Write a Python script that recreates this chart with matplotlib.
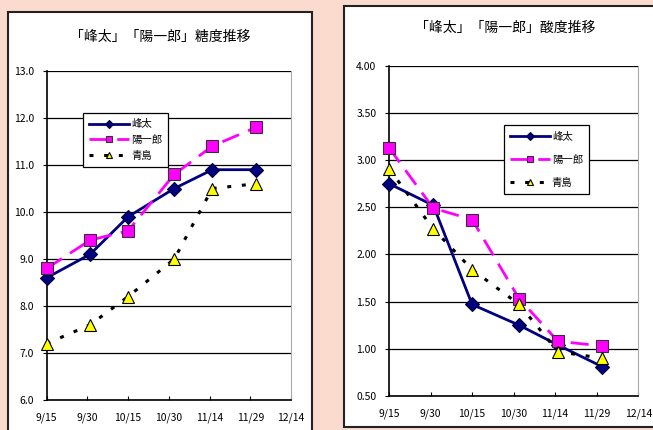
import pandas as pd
import matplotlib
matplotlib.use('Agg')
import matplotlib.pyplot as plt
from matplotlib.patches import Rectangle

plt.rcParams['font.family'] = ['Noto Sans CJK JP', 'DejaVu Sans']

# Sampling dates and series
dates = pd.to_datetime(['2005-09-15', '2005-10-01', '2005-10-15',
                        '2005-11-01', '2005-11-15', '2005-12-01'])
tick_dates = pd.date_range('2005-09-15', '2005-12-14', freq='15D')

names = ['峰太', '陽一郎', '青島']

sugar_houta = [8.6, 9.1, 9.9, 10.5, 10.9, 10.9]
sugar_youichirou = [8.8, 9.4, 9.6, 10.8, 11.4, 11.8]
sugar_aoshima = [7.2, 7.6, 8.2, 9.0, 10.5, 10.6]

acid_houta = [2.75, 2.52, 1.47, 1.25, 1.04, 0.81]
acid_youichirou = [3.13, 2.49, 2.37, 1.53, 1.08, 1.03]
acid_aoshima = [2.91, 2.27, 1.84, 1.47, 0.97, 0.90]

W, H = 653, 430
fig = plt.figure(figsize=(W / 100, H / 100), dpi=100)
fig.patch.set_facecolor('#FCDBCF')


def px_box(x0, y0, x1, y1):
    return [x0 / W, (H - y1) / H, (x1 - x0) / W, (y1 - y0) / H]


# white chart panels behind the axes
for x0, y0, x1, y1 in [(8, 12, 311.5, 440), (343.5, 6, 660, 427)]:
    b = px_box(x0, y0, x1, y1)
    fig.patches.append(Rectangle((b[0], b[1]), b[2], b[3], transform=fig.transFigure,
                                 facecolor='white', edgecolor='#222222', linewidth=1.5,
                                 zorder=-5))

styles = [
    dict(color='#000080', lw=2.0, ls='-', marker='D', ms=7, mfc='#000080', mec='#000033'),
    dict(color='#FF00FF', lw=2.0, ls=(0, (6.5, 3.5)), marker='s', ms=8, mfc='#FF00FF', mec='#333333'),
    dict(color='black', lw=2.2, ls=(0, (1.3, 3.5)), marker='^', ms=8, mfc='#FFFF00', mec='black'),
]


def draw(ax, series, ylim, yticks, yfmt, legend_pos, spacing):
    for name, vals, st in zip(names, series, styles):
        ax.plot(dates, vals, label=name, mew=0.8, clip_on=False, zorder=3, **st)
    ax.set_xlim(tick_dates[0], tick_dates[-1])
    ax.set_ylim(*ylim)
    ax.set_xticks(tick_dates)
    ax.set_xticklabels([f'{d.month}/{d.day}' for d in tick_dates])
    ax.set_yticks(yticks)
    ax.set_yticklabels([yfmt.format(v) for v in yticks])
    ax.yaxis.grid(True, color='black', lw=0.9)
    ax.set_axisbelow(True)
    ax.tick_params(axis='x', direction='in', length=3, pad=9, labelsize=7.5)
    ax.tick_params(axis='y', direction='out', length=3, pad=6, labelsize=7.5)
    ax.spines['top'].set_visible(False)
    ax.spines['right'].set_color('#AAAAAA')
    ax.spines['left'].set_linewidth(1.2)
    ax.spines['bottom'].set_linewidth(1.2)
    leg = ax.legend(loc='upper left', bbox_to_anchor=legend_pos, fontsize=7.5,
                    markerscale=0.6, handlelength=3.8, handletextpad=0.2, borderpad=0.6,
                    labelspacing=spacing, fancybox=False, framealpha=1, edgecolor='black')
    leg.get_frame().set_linewidth(0.9)


ax1 = fig.add_axes(px_box(46.7, 71, 291, 400))
draw(ax1, [sugar_houta, sugar_youichirou, sugar_aoshima], (6, 13),
     [6, 7, 8, 9, 10, 11, 12, 13], '{:.1f}', (0.128, 0.888), 0.55)

ax2 = fig.add_axes(px_box(389, 65.7, 638.3, 396))
draw(ax2, [acid_houta, acid_youichirou, acid_aoshima], (0.5, 4.0),
     [0.5, 1.0, 1.5, 2.0, 2.5, 3.0, 3.5, 4.0], '{:.2f}', (0.44, 0.835), 1.25)

fig.text(160 / W, 1 - 37 / H, '「峰太」「陽一郎」糖度推移', ha='center', va='center', fontsize=10)
fig.text(505 / W, 1 - 28 / H, '「峰太」「陽一郎」酸度推移', ha='center', va='center', fontsize=10)

fig.savefig('out.png', dpi=100, facecolor=fig.get_facecolor())
